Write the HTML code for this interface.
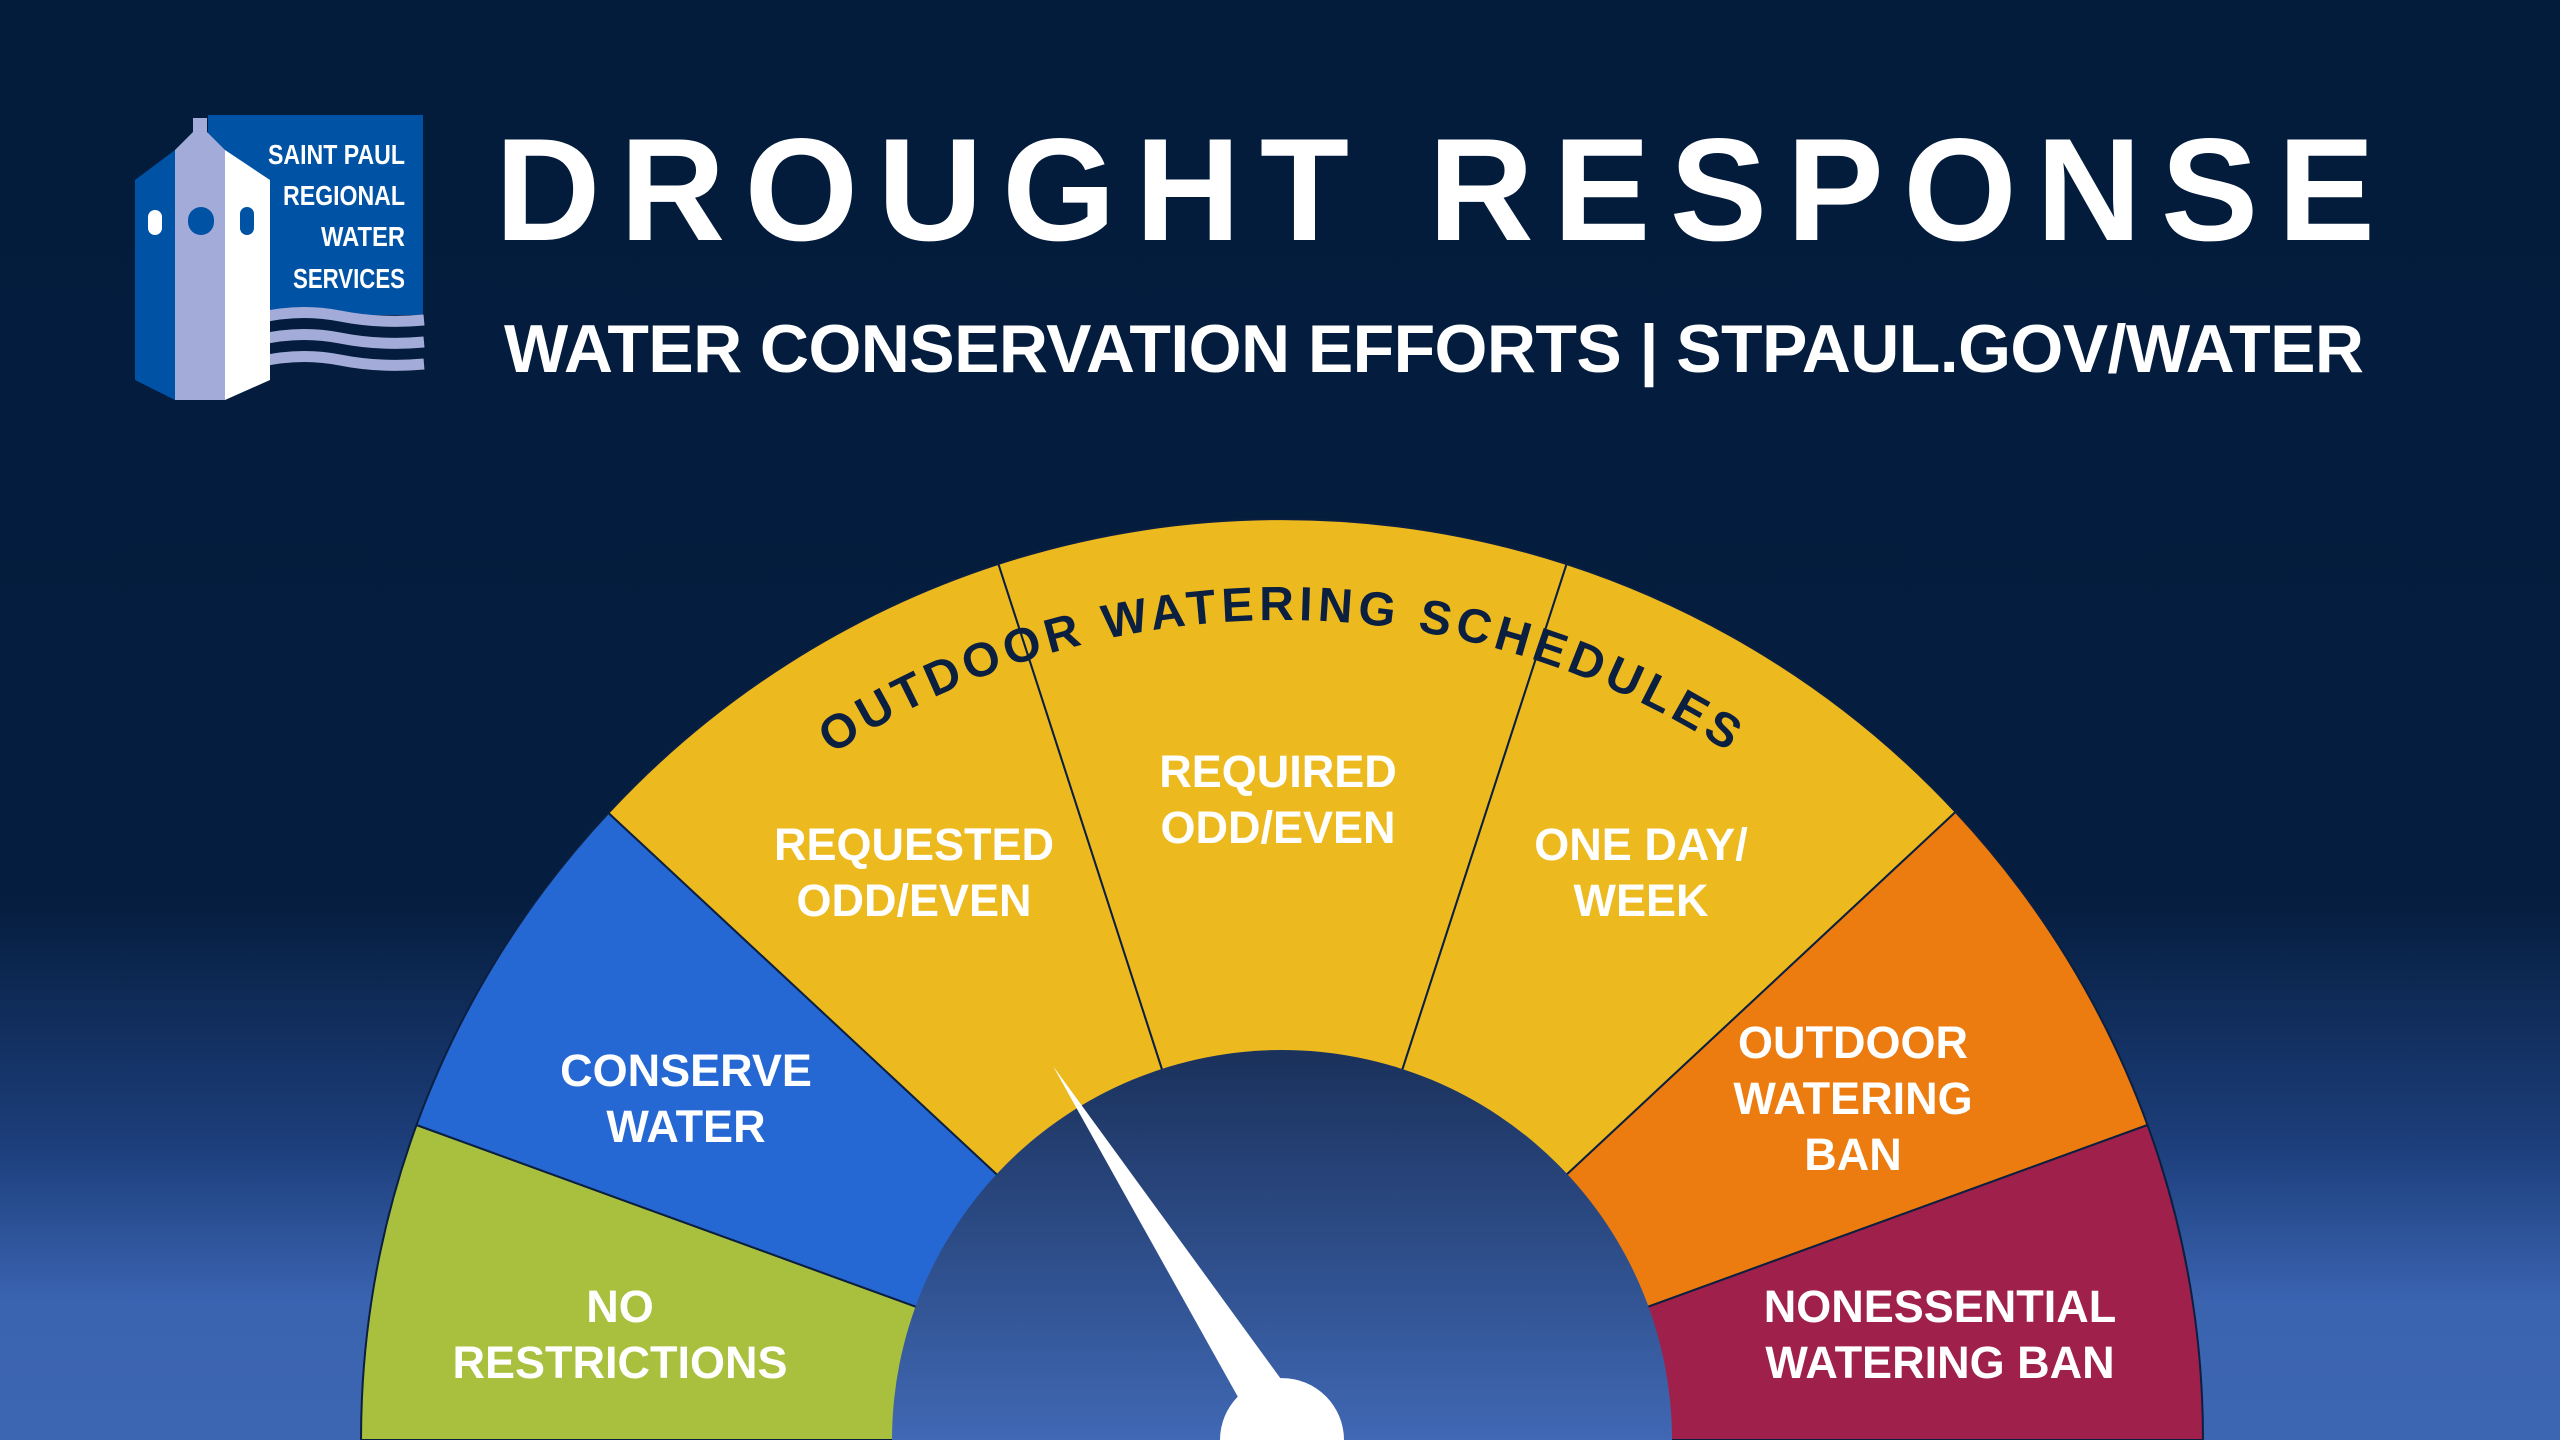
<!DOCTYPE html>
<html><head><meta charset="utf-8"><style>
html,body{margin:0;padding:0;width:2560px;height:1440px;overflow:hidden}
body{background:linear-gradient(180deg,#041c3c 0px,#051d3e 900px,#1d3f7c 1150px,#3a63b0 1300px,#3d66b2 1440px);font-family:"Liberation Sans",sans-serif;position:relative}
svg{position:absolute;left:0;top:0;overflow:hidden;display:block}
</style></head><body>
<svg width="2560" height="1440" viewBox="0 0 2560 1440">
<defs>
<linearGradient id="inner" gradientUnits="userSpaceOnUse" x1="0" y1="1058" x2="0" y2="1440">
<stop offset="0" stop-color="#1b325d"/><stop offset="1" stop-color="#4068b4"/></linearGradient>
<path id="arcText" d="M 462 1440 A 820 820 0 0 1 2102 1440" fill="none"/>
</defs>
<!-- logo -->
<rect x="208" y="115" width="215" height="200" fill="#0052a5"/>
<g fill="#fff" font-size="28" font-weight="bold" text-anchor="end">
<text x="405" y="164" textLength="137" lengthAdjust="spacingAndGlyphs">SAINT PAUL</text>
<text x="405" y="205" textLength="122" lengthAdjust="spacingAndGlyphs">REGIONAL</text>
<text x="405" y="246" textLength="84" lengthAdjust="spacingAndGlyphs">WATER</text>
<text x="405" y="288" textLength="112" lengthAdjust="spacingAndGlyphs">SERVICES</text>
</g>
<g fill="none" stroke="#a3acd8" stroke-width="11">
<path d="M258 318 Q300 308 340 316 T424 320"/>
<path d="M258 340 Q300 330 340 338 T424 342"/>
<path d="M258 362 Q300 352 340 360 T424 364"/>
</g>
<polygon points="135,180 175,150 175,400 135,380" fill="#0052a5"/>
<polygon points="175,150 200,125 225,150 225,400 175,400" fill="#a3acd8"/>
<polygon points="225,150 270,180 270,380 225,400" fill="#ffffff"/>
<rect x="193" y="118" width="14" height="30" fill="#a3acd8"/>
<rect x="148" y="210" width="14" height="25" rx="7" fill="#fff"/>
<rect x="188" y="207" width="26" height="28" rx="13" fill="#0052a5"/>
<rect x="240" y="207" width="14" height="28" rx="7" fill="#0052a5"/>
<!-- title -->
<text x="1435" y="240" fill="#fff" font-size="146" font-weight="bold" text-anchor="middle" textLength="1880" lengthAdjust="spacing">DROUGHT RESPONSE</text>
<text x="1434" y="372" fill="#fff" font-size="68" font-weight="bold" text-anchor="middle" textLength="1860" lengthAdjust="spacing">WATER CONSERVATION EFFORTS | STPAUL.GOV/WATER</text>
<!-- gauge segments -->
<g stroke="#0b1f40" stroke-width="2">
<path d="M1282 1440 L361 1440 A921 921 0 0 1 416.5 1125 Z" fill="#a9c03e"/>
<path d="M1282 1440 L416.5 1125 A921 921 0 0 1 608.4 812.9 Z" fill="#2567d3"/>
<path d="M1282 1440 L608.4 812.9 A921 921 0 0 1 998.4 563.9 Z" fill="#ecb91f"/>
<path d="M1282 1440 L998.4 563.9 A921 921 0 0 1 1566.6 564.1 Z" fill="#ecb91f"/>
<path d="M1282 1440 L1566.6 564.1 A921 921 0 0 1 1955.6 811.9 Z" fill="#ecb91f"/>
<path d="M1282 1440 L1955.6 811.9 A921 921 0 0 1 2147.5 1125 Z" fill="#ec7b10"/>
<path d="M1282 1440 L2147.5 1125 A921 921 0 0 1 2203 1440 Z" fill="#a0204c"/>
</g>
<path d="M892 1440 A390 390 0 0 1 1672 1440 Z" fill="url(#inner)"/>
<!-- curved text -->
<text fill="#0b1f40" font-size="48" font-weight="bold" letter-spacing="5"><textPath href="#arcText" startOffset="50%" text-anchor="middle">OUTDOOR WATERING SCHEDULES</textPath></text>
<!-- labels -->
<g fill="#fff" font-size="45" font-weight="bold" text-anchor="middle">
<text x="620" y="1322">NO</text><text x="620" y="1378">RESTRICTIONS</text>
<text x="686" y="1086">CONSERVE</text><text x="686" y="1142">WATER</text>
<text x="914" y="860">REQUESTED</text><text x="914" y="916">ODD/EVEN</text>
<text x="1278" y="787">REQUIRED</text><text x="1278" y="843">ODD/EVEN</text>
<text x="1641" y="860">ONE DAY/</text><text x="1641" y="916">WEEK</text>
<text x="1853" y="1058">OUTDOOR</text><text x="1853" y="1114">WATERING</text><text x="1853" y="1170">BAN</text>
<text x="1940" y="1322">NONESSENTIAL</text><text x="1940" y="1378">WATERING BAN</text>
</g>
<!-- needle -->
<polygon points="1053,1066 1305,1412 1262,1440" fill="#fff"/>
<path d="M1220 1440 A62 62 0 0 1 1344 1440 Z" fill="#fff"/>
</svg>
</body></html>
